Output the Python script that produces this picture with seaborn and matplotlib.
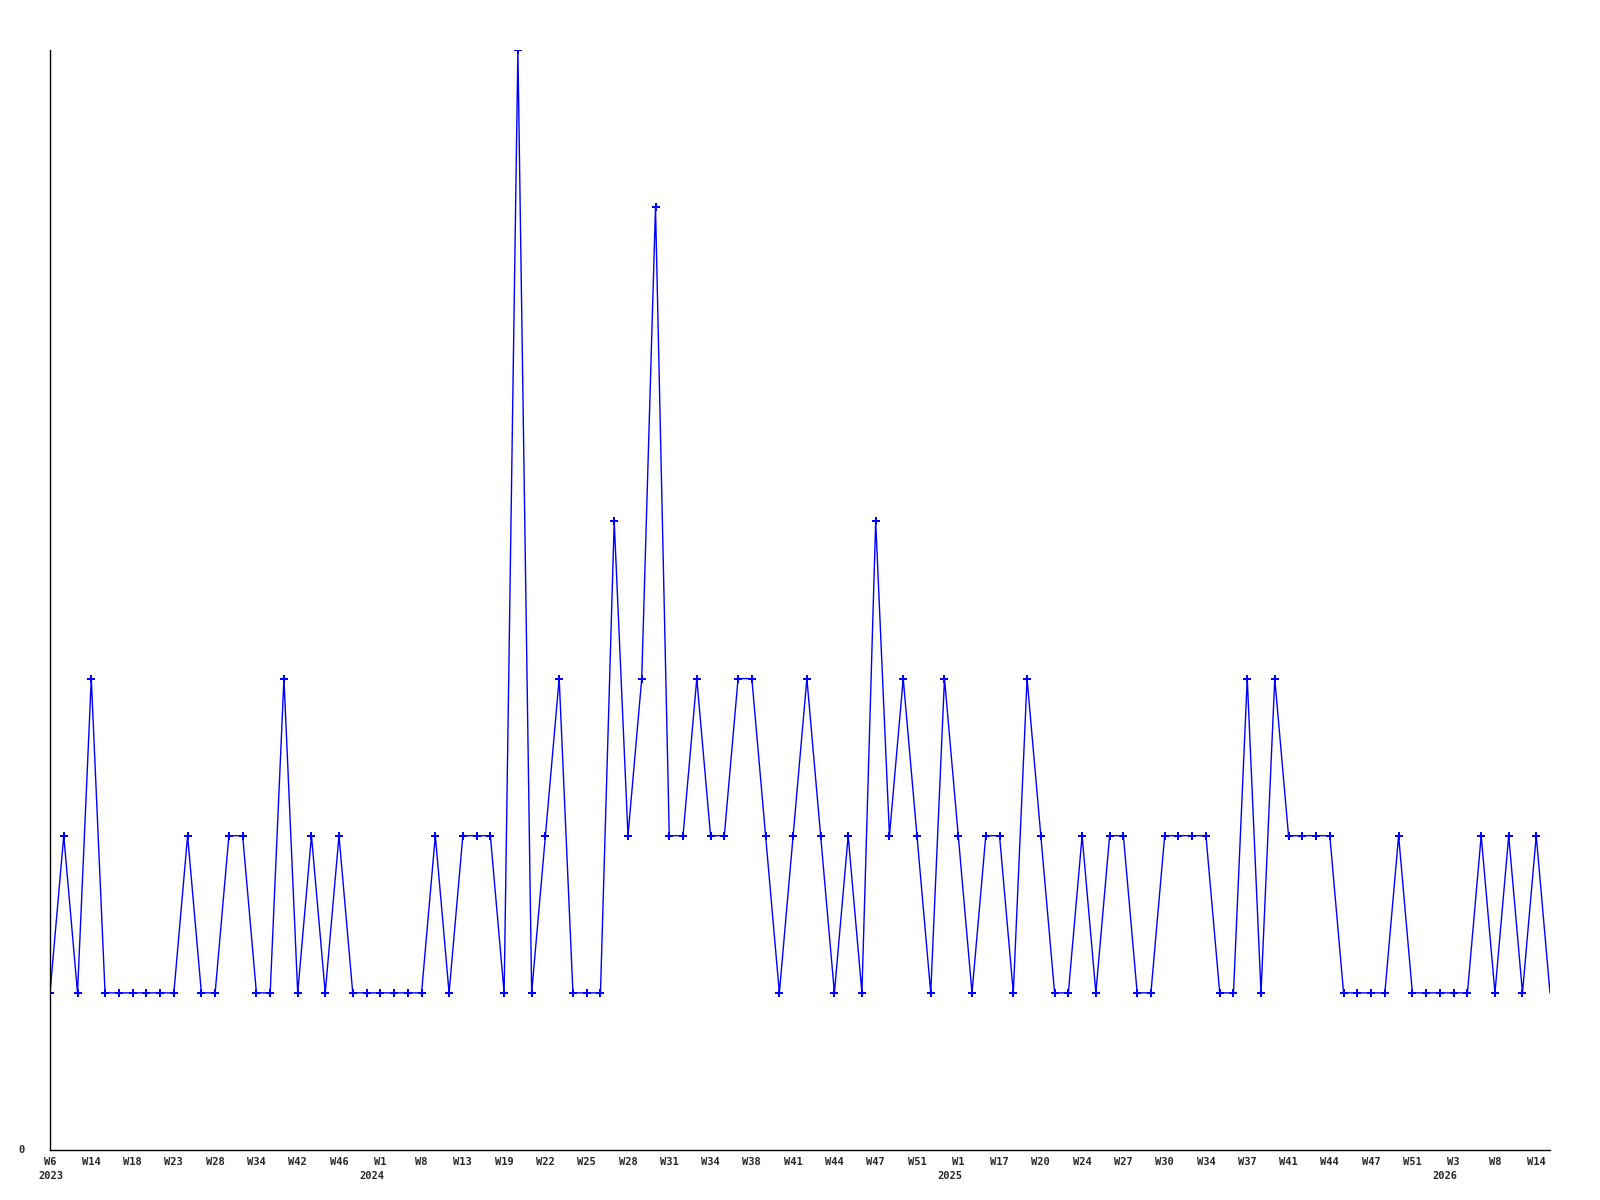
import matplotlib
matplotlib.use('Agg')
import matplotlib.pyplot as plt
import seaborn as sns
import pandas as pd

# weekly counts, one entry per plotted week
counts = [1, 2, 1, 3, 1, 1, 1, 1, 1, 1,
          2, 1, 1, 2, 2, 1, 1, 3, 1, 2,
          1, 2, 1, 1, 1, 1, 1, 1, 2, 1,
          2, 2, 2, 1, 7, 1, 2, 3, 1, 1,
          1, 4, 2, 3, 6, 2, 2, 3, 2, 2,
          3, 3, 2, 1, 2, 3, 2, 1, 2, 1,
          4, 2, 3, 2, 1, 3, 2, 1, 2, 2,
          1, 3, 2, 1, 1, 2, 1, 2, 2, 1,
          1, 2, 2, 2, 2, 1, 1, 3, 1, 3,
          2, 2, 2, 2, 1, 1, 1, 1, 2, 1,
          1, 1, 1, 1, 2, 1, 2, 1, 2, 1]

# labels shown on every third week
week_labels = ['W6', 'W14', 'W18', 'W23', 'W28', 'W34', 'W42', 'W46', 'W1', 'W8',
               'W13', 'W19', 'W22', 'W25', 'W28', 'W31', 'W34', 'W38', 'W41', 'W44',
               'W47', 'W51', 'W1', 'W17', 'W20', 'W24', 'W27', 'W30', 'W34', 'W37',
               'W41', 'W44', 'W47', 'W51', 'W3', 'W8', 'W14']
label_step = 3

# year markers: (position index, year)
year_pos = [0, 24, 66, 102]
year_text = ['2023', '2024', '2025', '2026']

df = pd.DataFrame({'idx': range(len(counts)), 'count': counts})

sns.set_style('white')
plt.rcParams['font.family'] = ['DejaVu Sans Mono']

fig = plt.figure(figsize=(16, 12), dpi=100)
ax = fig.add_axes([50 / 1600, 1 - 1150 / 1200, 1500 / 1600, 1100 / 1200])

sns.lineplot(data=df, x='idx', y='count', ax=ax, color='#0000ff', linewidth=1,
             marker='P', markersize=5.5, markeredgewidth=0,
             markevery=list(range(len(counts) - 1)))

ax.set_xlim(0, len(counts) - 1)
ax.set_ylim(0, 7)

tick_pos = [i * label_step for i in range(len(week_labels))]
ax.set_xticks(tick_pos)
ax.set_xticklabels(week_labels, fontsize=7.5, fontweight='bold')
ax.set_yticks([0])
ax.set_yticklabels(['0'], fontsize=7.5, fontweight='bold')
ax.tick_params(axis='x', length=0, pad=5)
ax.tick_params(axis='y', length=0, pad=18)
for lab in ax.get_yticklabels():
    lab.set_verticalalignment('center')

for pos, yr in zip(year_pos, year_text):
    if pos == 0:
        ax.annotate(yr, xy=(pos, 0), xycoords=('data', 'axes fraction'),
                    xytext=(-12, -21), textcoords='offset pixels',
                    ha='left', va='top', fontsize=7.5, fontweight='bold')
    else:
        ax.annotate(yr, xy=(pos, 0), xycoords=('data', 'axes fraction'),
                    xytext=(4, -21), textcoords='offset pixels',
                    ha='right', va='top', fontsize=7.5, fontweight='bold')

ax.set_xlabel('')
ax.set_ylabel('')
for side in ['top', 'right']:
    ax.spines[side].set_visible(False)
for side in ['left', 'bottom']:
    ax.spines[side].set_color('black')
    ax.spines[side].set_linewidth(1)

fig.savefig('out.png', dpi=100)
